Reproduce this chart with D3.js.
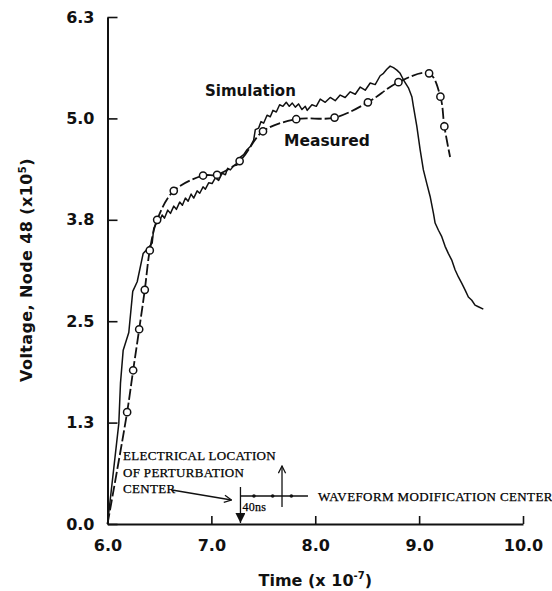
<!DOCTYPE html>
<html>
<head>
<meta charset="utf-8">
<script src="https://cdn.jsdelivr.net/npm/d3@7"></script>
<style>
  body { margin: 0; background: #fff; }
  svg { display: block; }
  .lbl { font-family: 'DejaVu Sans', sans-serif; font-weight: bold; fill: #111; }
  .note { font-family: 'Liberation Serif', serif; fill: #000; letter-spacing: 0.3px; stroke: #000; stroke-width: 0.25px; }
</style>
</head>
<body>
<script>
// simulation trace (time x1e-7, voltage x1e5)
const simT = [6.000, 6.109, 6.125, 6.151, 6.205, 6.243, 6.286, 6.343, 6.372, 6.430, 6.445, 6.478,
  6.493, 6.526, 6.548, 6.580, 6.606, 6.638, 6.663, 6.695, 6.721, 6.750, 6.776, 6.805, 6.830, 6.863,
  6.888, 6.920, 6.942, 6.974, 7.007, 7.038, 7.070, 7.103, 7.135, 7.157, 7.183, 7.214, 7.247, 7.279,
  7.311, 7.343, 7.375, 7.407, 7.423, 7.455, 7.478, 7.503, 7.536, 7.567, 7.593, 7.625, 7.657, 7.689,
  7.721, 7.750, 7.779, 7.808, 7.839, 7.872, 7.904, 7.923, 7.968, 8.010, 8.048, 8.096, 8.144, 8.192,
  8.240, 8.288, 8.337, 8.385, 8.433, 8.481, 8.529, 8.577, 8.625, 8.657, 8.689, 8.721, 8.753, 8.786,
  8.817, 8.849, 8.897, 8.930, 8.945, 8.978, 9.010, 9.041, 9.074, 9.106, 9.138, 9.154, 9.186, 9.218,
  9.250, 9.282, 9.314, 9.346, 9.378, 9.411, 9.442, 9.474, 9.507, 9.538, 9.570, 9.618]
const simV = [0.00, 1.25, 1.75, 2.16, 2.38, 2.89, 3.01, 3.36, 3.40, 3.49, 3.67, 3.76,
  3.74, 3.84, 3.80, 3.90, 3.86, 3.95, 3.91, 4.00, 3.96, 4.05, 4.01, 4.10, 4.05, 4.14,
  4.11, 4.19, 4.16, 4.24, 4.23, 4.30, 4.27, 4.36, 4.34, 4.42, 4.40, 4.45, 4.46, 4.56,
  4.59, 4.65, 4.69, 4.77, 4.90, 4.92, 5.00, 4.98, 5.08, 5.06, 5.14, 5.12, 5.21, 5.19,
  5.24, 5.19, 5.23, 5.18, 5.22, 5.15, 5.19, 5.14, 5.21, 5.19, 5.28, 5.24, 5.30, 5.26,
  5.33, 5.30, 5.37, 5.34, 5.43, 5.39, 5.48, 5.46, 5.57, 5.60, 5.65, 5.69, 5.67, 5.64,
  5.60, 5.52, 5.42, 5.31, 5.19, 4.94, 4.65, 4.40, 4.23, 4.07, 3.86, 3.74, 3.65, 3.57,
  3.45, 3.36, 3.28, 3.16, 3.07, 2.99, 2.91, 2.82, 2.78, 2.72, 2.70, 2.67]

// measured trace, circles on every point except the two ends
const measT = [6.000, 6.189, 6.247, 6.305, 6.359, 6.407, 6.478, 6.638, 6.920, 7.055, 7.272,
  7.497, 7.817, 8.186, 8.507, 8.801, 9.096, 9.205, 9.243, 9.298]
const measV = [0.00, 1.39, 1.91, 2.42, 2.91, 3.40, 3.78, 4.14, 4.33, 4.34, 4.51,
  4.88, 5.03, 5.05, 5.24, 5.49, 5.60, 5.31, 4.94, 4.56]

const xTicks = [6, 7, 8, 9, 10]
const xTickLabels = ['6.0', '7.0', '8.0', '9.0', '10.0']
const yTicks = [0, 1.26, 2.52, 3.78, 5.04, 6.3]
const yTickLabels = ['0.0', '1.3', '2.5', '3.8', '5.0', '6.3']

const perturbT = 7.28
const modWidth = 0.4

const W = 552
const H = 591

const svg = d3.select('body').append('svg')
  .attr('width', W)
  .attr('height', H)

const x = d3.scaleLinear().domain([6, 10]).range([107.5, 523])
const y = d3.scaleLinear().domain([0, 6.3]).range([524, 17])

const defs = svg.append('defs')
defs.append('marker').attr('id', 'open')
  .attr('viewBox', '0 0 10 10').attr('refX', 9).attr('refY', 5)
  .attr('markerWidth', 9).attr('markerHeight', 9).attr('orient', 'auto')
  .attr('markerUnits', 'userSpaceOnUse')
  .append('path').attr('d', 'M1,1 L9,5 L1,9').attr('fill', 'none')
  .attr('stroke', '#111').attr('stroke-width', 1.4)
defs.append('marker').attr('id', 'solid')
  .attr('viewBox', '0 0 10 10').attr('refX', 10).attr('refY', 5)
  .attr('markerWidth', 12).attr('markerHeight', 10).attr('orient', 'auto')
  .attr('markerUnits', 'userSpaceOnUse')
  .append('path').attr('d', 'M0,0 L10,5 L0,10 Z').attr('fill', '#111')

// axes
const yAxis = d3.axisLeft(y)
  .tickValues(yTicks)
  .tickFormat((d, i) => yTickLabels[i])
  .tickSize(-10)
  .tickPadding(13)
  .tickSizeOuter(0)

const xAxis = d3.axisBottom(x)
  .tickValues(xTicks)
  .tickFormat((d, i) => xTickLabels[i])
  .tickSize(-8)
  .tickPadding(16)
  .tickSizeOuter(0)

const gy = svg.append('g').attr('transform', `translate(${x(6)},0)`).call(yAxis)
const gx = svg.append('g').attr('transform', `translate(0,${y(0)})`).call(xAxis)

for (const g of [gx, gy]) {
  g.select('.domain').attr('stroke', '#111').attr('stroke-width', 2)
  g.selectAll('.tick line').attr('stroke', '#111').attr('stroke-width', 1.6)
  g.selectAll('.tick text').attr('class', 'lbl').style('font-size', '16px')
    .attr('font-family', null)
}
gx.select('.tick line').remove()

// simulation line
const sim = simT.map((t, i) => ({ t, v: simV[i] }))
const simLine = d3.line().x(d => x(d.t)).y(d => y(d.v)).curve(d3.curveLinear)
svg.append('path')
  .attr('d', simLine(sim))
  .attr('fill', 'none')
  .attr('stroke', '#111')
  .attr('stroke-width', 1.5)
  .attr('stroke-linejoin', 'round')

// measured line
const meas = measT.map((t, i) => ({ t, v: measV[i] }))
const measLine = d3.line().x(d => x(d.t)).y(d => y(d.v)).curve(d3.curveCatmullRom.alpha(0.5))
svg.append('path')
  .attr('d', measLine(meas))
  .attr('fill', 'none')
  .attr('stroke', '#111')
  .attr('stroke-width', 1.8)
  .attr('stroke-dasharray', '11,3')

svg.selectAll('circle.m')
  .data(meas.slice(1, -1))
  .enter().append('circle')
  .attr('class', 'm')
  .attr('cx', d => x(d.t))
  .attr('cy', d => y(d.v))
  .attr('r', 3.6)
  .attr('fill', '#fff')
  .attr('stroke', '#111')
  .attr('stroke-width', 1.5)

// series labels
svg.append('text').attr('class', 'lbl').style('font-size', '15px')
  .attr('x', 205).attr('y', 96).text('Simulation')
svg.append('text').attr('class', 'lbl').style('font-size', '15.5px')
  .attr('x', 284).attr('y', 146).text('Measured')

// axis titles
const yt = svg.append('text').attr('class', 'lbl')
  .style('font-size', '16px').style('letter-spacing', '0.4px')
  .attr('text-anchor', 'middle')
  .attr('transform', 'translate(32,270) rotate(-90)')
yt.append('tspan').text('Voltage, Node 48 (x10')
yt.append('tspan').text('5').attr('dy', -6).style('font-size', '10px')
yt.append('tspan').text(')').attr('dy', 6)

const xt = svg.append('text').attr('class', 'lbl')
  .style('font-size', '16px')
  .attr('text-anchor', 'middle')
  .attr('x', x(8)).attr('y', 586)
xt.append('tspan').text('Time (x 10')
xt.append('tspan').text('-7').attr('dy', -7).style('font-size', '10px')
xt.append('tspan').text(')').attr('dy', 7)

// annotations
const noteLines = ['ELECTRICAL LOCATION', 'OF PERTURBATION', 'CENTER']
svg.selectAll('text.n')
  .data(noteLines)
  .enter().append('text')
  .attr('class', 'note n')
  .style('font-size', '13px')
  .attr('x', x(6.15))
  .attr('y', (d, i) => 460 + i * 16.5)
  .text(d => d)

svg.append('line')
  .attr('x1', 172).attr('y1', 490)
  .attr('x2', x(perturbT) - 9).attr('y2', 500)
  .attr('stroke', '#111').attr('stroke-width', 1.3)
  .attr('marker-end', 'url(#open)')

// perturbation center arrow down to axis
svg.append('line')
  .attr('x1', x(perturbT)).attr('y1', 487)
  .attr('x2', x(perturbT)).attr('y2', y(0) - 1)
  .attr('stroke', '#111').attr('stroke-width', 1.3)
  .attr('marker-end', 'url(#solid)')

// modification center
const hy = 496
svg.append('line')
  .attr('x1', x(perturbT)).attr('y1', hy)
  .attr('x2', x(7.93)).attr('y2', hy)
  .attr('stroke', '#111').attr('stroke-width', 1.3)
svg.append('line')
  .attr('x1', x(perturbT + modWidth)).attr('y1', 507)
  .attr('x2', x(perturbT + modWidth)).attr('y2', 466)
  .attr('stroke', '#111').attr('stroke-width', 1.3)
  .attr('marker-end', 'url(#open)')
svg.selectAll('circle.tk')
  .data([7.41, 7.59, 7.77])
  .enter().append('circle')
  .attr('class', 'tk')
  .attr('cx', d => x(d)).attr('cy', hy).attr('r', 1.8)
  .attr('fill', '#111')

svg.append('text').attr('class', 'note').style('font-size', '12px')
  .attr('x', x(perturbT) + 2).attr('y', 511).text('40ns')
svg.append('text').attr('class', 'note').style('font-size', '13px')
  .style('letter-spacing', '0.4px')
  .attr('x', 318).attr('y', 501).text('WAVEFORM MODIFICATION CENTER')
</script>
</body>
</html>
